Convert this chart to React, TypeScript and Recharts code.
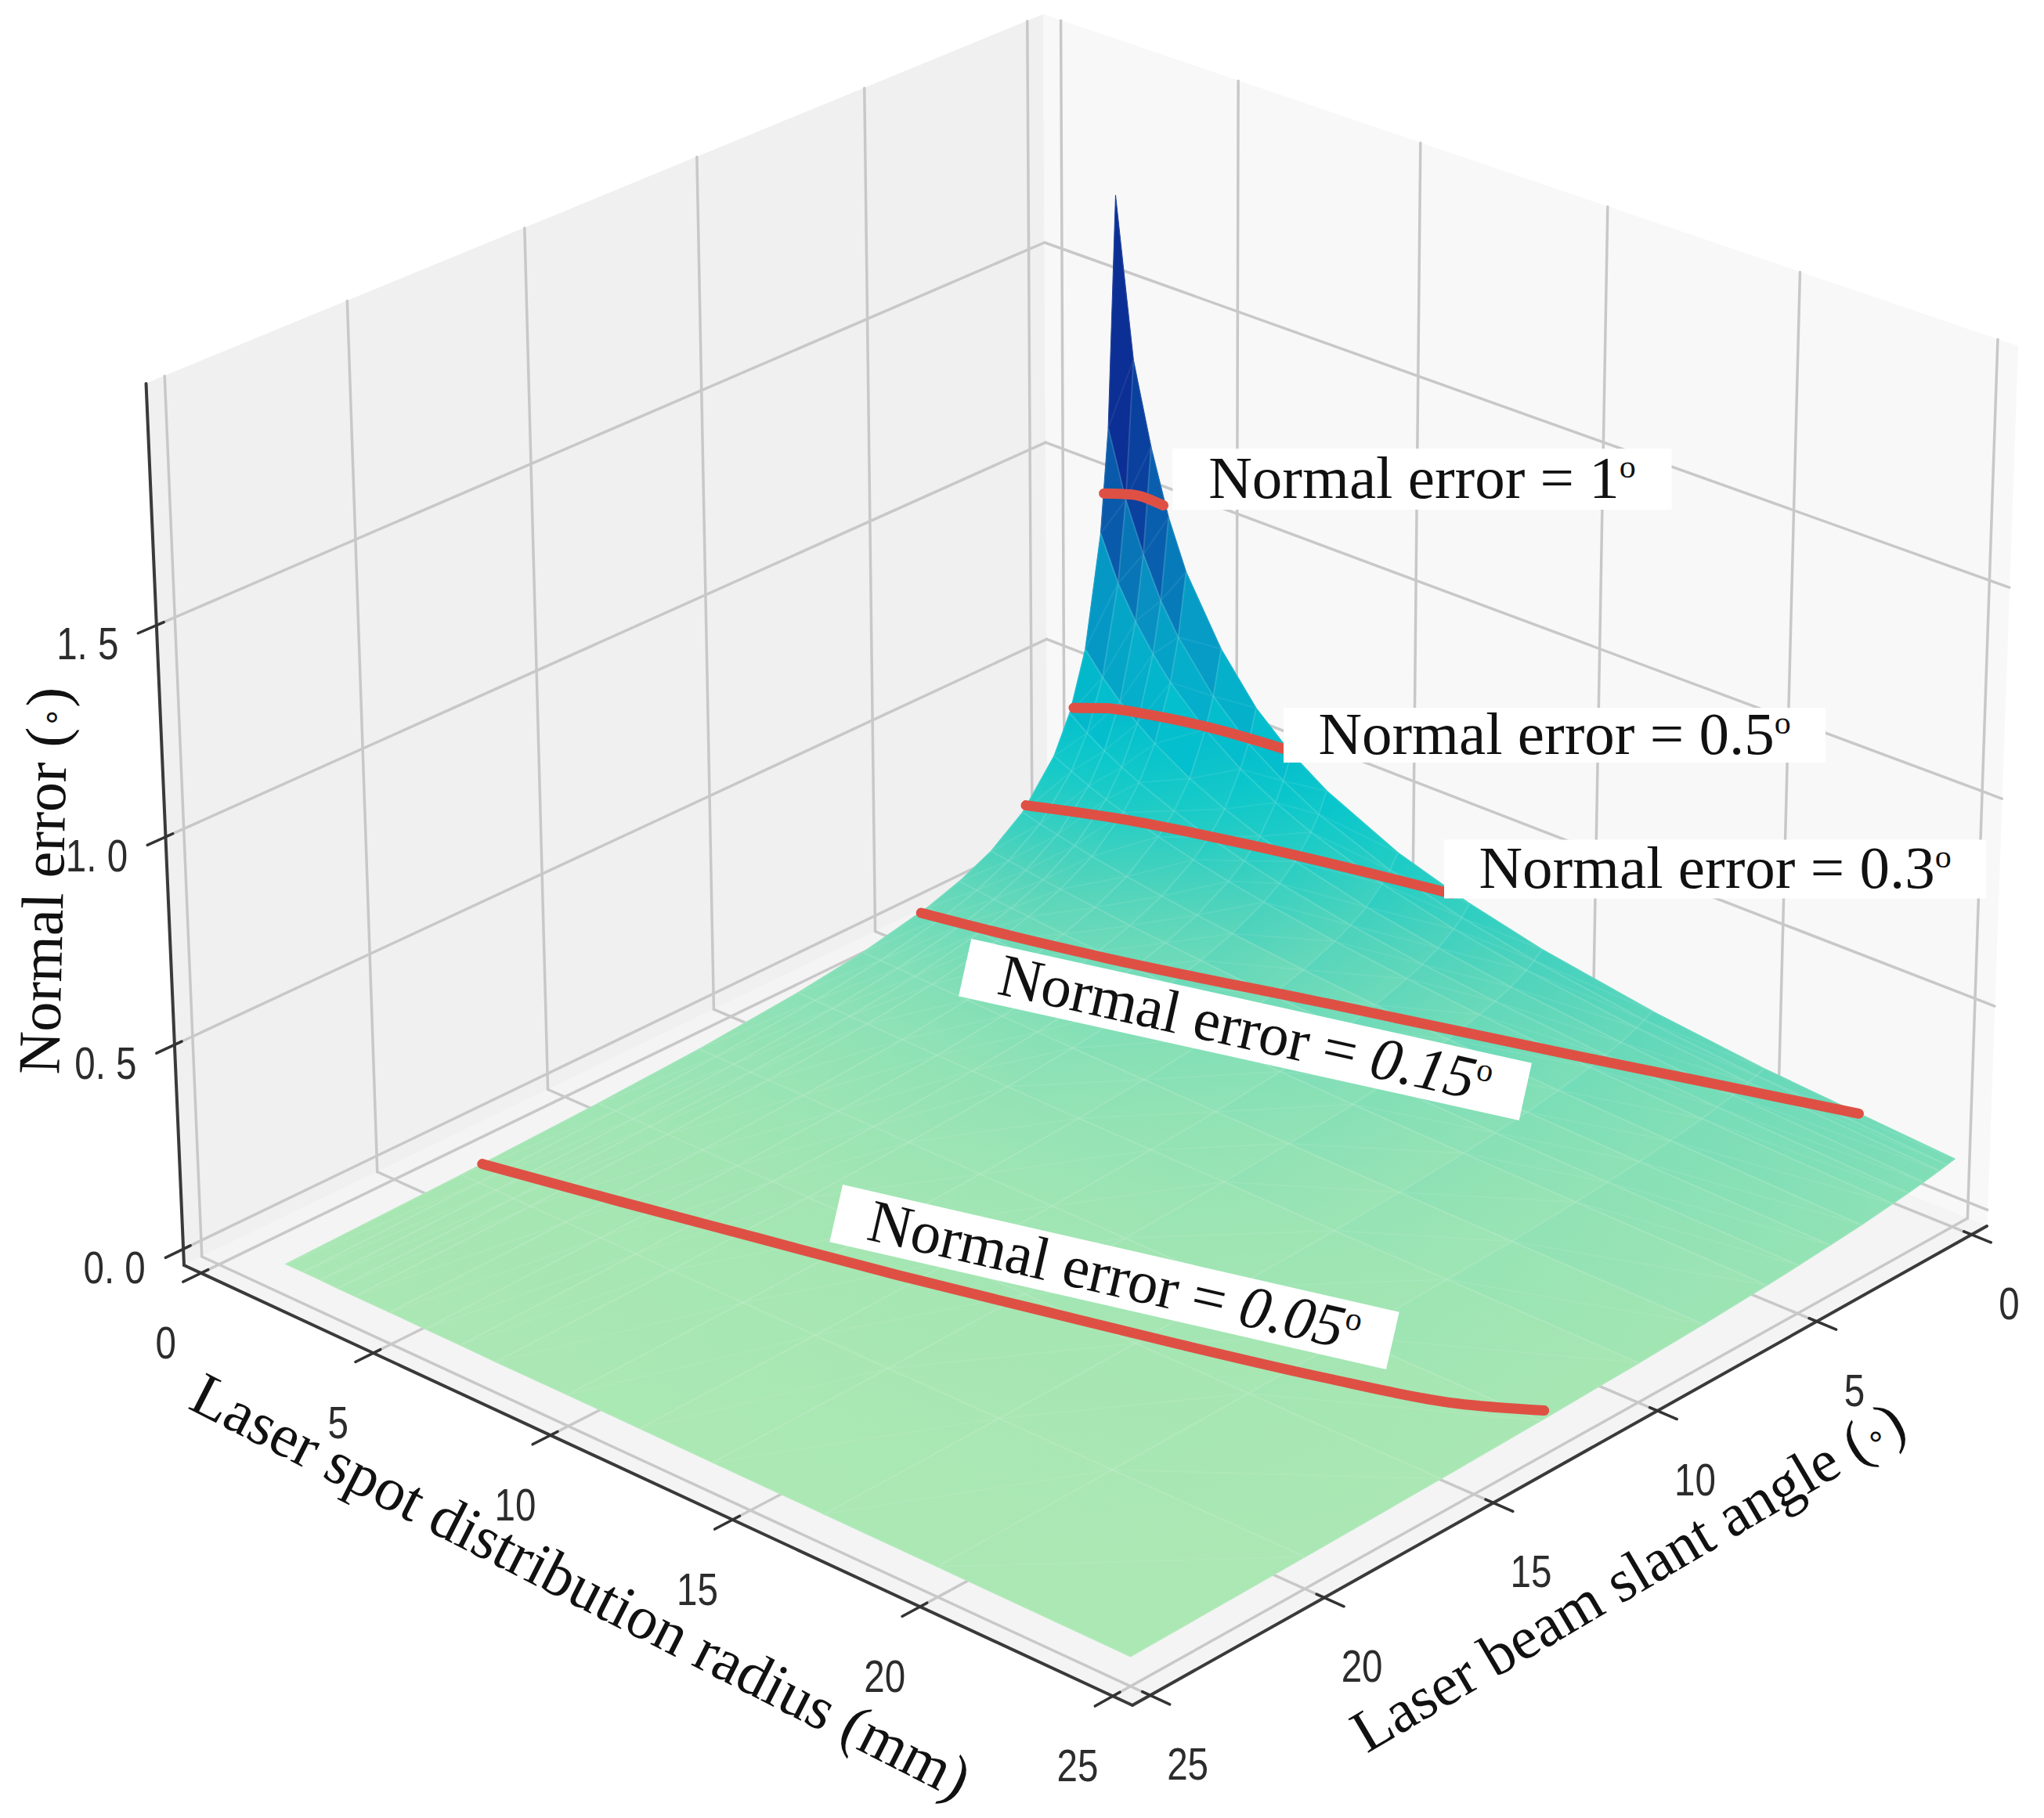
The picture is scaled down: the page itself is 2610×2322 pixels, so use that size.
import React from 'react';
import { ScatterChart, Scatter, XAxis, YAxis } from 'recharts';

// ---- grid of the surface ----
const RADII = [2, 2.5, 3, 3.5, 4, 5, 6, 7, 8, 10, 12, 14, 17, 20, 25];
const ANGLES = [0, 0.25, 0.5, 1, 1.5, 2, 3, 4, 5, 6, 8, 10, 13, 16, 20, 25];
// normal error read per radius, one value per angle
const E_R2 = [1.71, 1.143, 0.889, 0.615, 0.471, 0.381, 0.276, 0.216, 0.178, 0.151, 0.116, 0.094, 0.073, 0.06, 0.048, 0.039];
const E_R2_5 = [1.32, 0.98, 0.78, 0.561, 0.438, 0.36, 0.264, 0.209, 0.173, 0.147, 0.114, 0.093, 0.073, 0.06, 0.048, 0.039];
const E_R3 = [1.12, 0.86, 0.7, 0.516, 0.41, 0.34, 0.254, 0.203, 0.168, 0.144, 0.112, 0.091, 0.072, 0.059, 0.048, 0.039];
const E_R3_5 = [0.96, 0.76, 0.635, 0.478, 0.386, 0.323, 0.244, 0.196, 0.164, 0.141, 0.11, 0.09, 0.071, 0.059, 0.047, 0.038];
const E_R4 = [0.84, 0.685, 0.58, 0.444, 0.364, 0.308, 0.235, 0.19, 0.16, 0.138, 0.108, 0.089, 0.07, 0.058, 0.047, 0.038];
const E_R5 = [0.68, 0.57, 0.495, 0.39, 0.327, 0.281, 0.219, 0.18, 0.152, 0.132, 0.105, 0.086, 0.069, 0.057, 0.046, 0.038];
const E_R6 = [0.565, 0.485, 0.43, 0.348, 0.296, 0.258, 0.205, 0.17, 0.145, 0.127, 0.101, 0.084, 0.067, 0.056, 0.046, 0.037];
const E_R7 = [0.485, 0.425, 0.38, 0.314, 0.271, 0.239, 0.193, 0.162, 0.139, 0.122, 0.098, 0.082, 0.066, 0.055, 0.045, 0.037];
const E_R8 = [0.425, 0.376, 0.34, 0.286, 0.25, 0.222, 0.182, 0.154, 0.133, 0.118, 0.095, 0.08, 0.065, 0.054, 0.044, 0.036];
const E_R10 = [0.34, 0.306, 0.281, 0.242, 0.216, 0.195, 0.163, 0.14, 0.123, 0.11, 0.09, 0.076, 0.062, 0.052, 0.043, 0.036];
const E_R12 = [0.283, 0.258, 0.239, 0.211, 0.19, 0.174, 0.148, 0.129, 0.114, 0.103, 0.085, 0.073, 0.06, 0.051, 0.042, 0.035];
const E_R14 = [0.24, 0.222, 0.208, 0.186, 0.17, 0.157, 0.136, 0.119, 0.107, 0.096, 0.081, 0.07, 0.058, 0.049, 0.041, 0.034];
const E_R17 = [0.195, 0.183, 0.174, 0.158, 0.147, 0.137, 0.12, 0.107, 0.097, 0.088, 0.075, 0.065, 0.055, 0.047, 0.04, 0.033];
const E_R20 = [0.163, 0.156, 0.149, 0.138, 0.129, 0.121, 0.108, 0.098, 0.089, 0.082, 0.07, 0.062, 0.052, 0.045, 0.038, 0.032];
const E_R25 = [0.128, 0.124, 0.12, 0.113, 0.107, 0.102, 0.092, 0.085, 0.078, 0.072, 0.063, 0.056, 0.048, 0.042, 0.036, 0.03];
const ERRORS = [E_R2, E_R2_5, E_R3, E_R3_5, E_R4, E_R5, E_R6, E_R7, E_R8, E_R10, E_R12, E_R14, E_R17, E_R20, E_R25];

// ---- contours [radius, angle, error] ----
const LEVEL_1 = [[2, 0.39, 0.985], [2.6, 0.2, 0.995], [3.35, 0, 0.985]];
const LEVEL_05 = [[2, 1.375, 0.48], [2.7, 1.15, 0.495], [3.5, 0.9, 0.5], [5, 0.45, 0.5], [6.9, 0, 0.49]];
const LEVEL_03 = [[2, 2.9, 0.29], [4, 2.1, 0.295], [7, 1.15, 0.295], [11.5, 0, 0.29]];
const LEVEL_015 = [[2, 6.2, 0.145], [4, 5.5, 0.13], [6, 4.8, 0.12], [11, 3.2, 0.12], [16, 1.65, 0.12], [19, 0.85, 0.13], [22.5, 0, 0.145]];
const LEVEL_005 = [[2, 19.4, 0.05], [5, 18.45, 0.032], [8, 17.5, 0.017], [11, 16.6, 0.005], [14, 15.6, -0.007], [17, 14.7, -0.012], [20, 13.8, -0.012], [23, 13.2, 0.018], [25, 12.9, 0.068]];
const CONTOURS = [LEVEL_1, LEVEL_05, LEVEL_03, LEVEL_015, LEVEL_005];

// ---- ticks ----
const RADIUS_TICKS = [0, 5, 10, 15, 20, 25];
const ANGLE_TICKS = [0, 5, 10, 15, 20, 25];
const ERROR_TICKS = [0, 0.5, 1, 1.5];
const ERROR_TICK_LABELS = ['0. 0', '0. 5', '1. 0', '1. 5'];

const NOTES = [
  { pre: 'Normal error = ', val: '1', italic: false, x: 1816, y: 612, w: 637, h: 78, rot: 0 },
  { pre: 'Normal error = ', val: '0.5', italic: false, x: 1985, y: 939, w: 692, h: 70, rot: 0 },
  { pre: 'Normal error = ', val: '0.3', italic: false, x: 2190, y: 1110, w: 692, h: 75, rot: 0 },
  { pre: 'Normal error = ', val: '0.15', italic: true, x: 1590, y: 1315, w: 733, h: 75, rot: 12.5 },
  { pre: 'Normal error = ', val: '0.05', italic: true, x: 1423, y: 1631, w: 729, h: 75, rot: 12.9 },
];
const TITLES = [
  { text: 'Normal error (', x: 58, y: 1125, size: 76, rot: -88.7 },
  { text: 'Laser spot distribution radius (mm)', x: 741, y: 2028, size: 78, rot: 27, plain: true },
  { text: 'Laser beam slant angle (', x: 2080, y: 2016, size: 77, rot: -30.5 },
];

// ---- view ----
const W = 2610, H = 2322;
const LO = -0.5, HI = 25.5, Z_MIN = -0.04, Z_MAX = 2.06;
const CD = [1338, 1083], CC = [2537, 1566], CB = [1446, 2178], CA = [235, 1616];
const VP = [1500, 31000];
const TOP_Y_AT_A = 490;

const hom = (() => {
  const [x0, y0] = CD, [x1, y1] = CC, [x2, y2] = CB, [x3, y3] = CA;
  const dx1 = x1 - x2, dx2 = x3 - x2, sx = x0 - x1 + x2 - x3;
  const dy1 = y1 - y2, dy2 = y3 - y2, sy = y0 - y1 + y2 - y3;
  const den = dx1 * dy2 - dx2 * dy1;
  const g = (sx * dy2 - dx2 * sy) / den, h = (dx1 * sy - sx * dy1) / den;
  const a = x1 - x0 + g * x1, b = x3 - x0 + h * x3, d = y1 - y0 + g * y1, e = y3 - y0 + h * y3;
  const ny = e + y0, w = h + 1;
  const s = (ny - TOP_Y_AT_A * w) / ((Z_MAX - Z_MIN) * (TOP_Y_AT_A - VP[1]));
  return { a, b, c: x0, d, e, f: y0, g, h, s };
})();

const project = (r: number, a: number, z: number) => {
  const u = (r - LO) / (HI - LO), v = (a - LO) / (HI - LO), q = (z - Z_MIN) * hom.s;
  const w = hom.g * u + hom.h * v + 1 + q;
  return {
    x: (hom.a * u + hom.b * v + hom.c + q * VP[0]) / w,
    y: (hom.d * u + hom.e * v + hom.f + q * VP[1]) / w,
  };
};

const STOPS: [number, number[]][] = [
  [0.03, [172, 232, 180]], [0.05, [165, 230, 179]], [0.1, [135, 224, 182]], [0.15, [108, 218, 185]],
  [0.2, [84, 212, 187]], [0.3, [36, 205, 196]], [0.42, [5, 198, 205]], [0.5, [4, 188, 205]], [0.7, [6, 155, 198]],
  [0.85, [8, 112, 180]], [1.0, [10, 78, 165]], [1.15, [11, 48, 150]], [1.71, [10, 42, 142]],
];
const colour = (z: number) => {
  for (let i = 1; i < STOPS.length; i++) {
    if (z <= STOPS[i][0]) {
      const [z0, c0] = STOPS[i - 1], [z1, c1] = STOPS[i];
      const t = Math.max(0, (z - z0) / (z1 - z0));
      return `rgb(${c0.map((c, k) => Math.round(c + (c1[k] - c) * t)).join(',')})`;
    }
  }
  return 'rgb(10,42,142)';
};

// ---- derived tables ----
const polyRow = (pts: { x: number; y: number }[], fill: string, extra: any = {}) => {
  const x = pts.reduce((s, p) => s + p.x, 0) / pts.length;
  const y = pts.reduce((s, p) => s + p.y, 0) / pts.length;
  return { x, y, pts, fill, ...extra };
};

const panes = [
  polyRow([project(LO, HI, Z_MIN), project(LO, LO, Z_MIN), project(LO, LO, Z_MAX), project(LO, HI, Z_MAX)], '#f0f0f0'),
  polyRow([project(LO, LO, Z_MIN), project(HI, LO, Z_MIN), project(HI, LO, Z_MAX), project(LO, LO, Z_MAX)], '#f8f8f8'),
  polyRow([project(LO, LO, Z_MIN), project(HI, LO, Z_MIN), project(HI, HI, Z_MIN), project(LO, HI, Z_MIN)], '#f4f4f4'),
];

const cells: any[] = [];
for (let i = 0; i < RADII.length - 1; i++) {
  for (let j = 0; j < ANGLES.length - 1; j++) {
    const zs = [ERRORS[i][j], ERRORS[i + 1][j], ERRORS[i + 1][j + 1], ERRORS[i][j + 1]];
    const mean = (zs[0] + zs[1] + zs[2] + zs[3]) / 4;
    const row = polyRow(
      [project(RADII[i], ANGLES[j], zs[0]), project(RADII[i + 1], ANGLES[j], zs[1]),
       project(RADII[i + 1], ANGLES[j + 1], zs[2]), project(RADII[i], ANGLES[j + 1], zs[3])],
      colour(mean),
      mean < 0.45 ? { gid: `cell-${i}-${j}`, c0: colour(zs[0]), c2: colour(zs[2]) } : {});
    cells.push({ ...row, depth: RADII[i] + ANGLES[j] });
  }
}
cells.sort((p, q) => p.depth - q.depth);

const seg = (p: { x: number; y: number }, q: { x: number; y: number }) => [p, q];
const gridLines = [
  ...ANGLE_TICKS.flatMap((a) => [
    seg(project(LO, a, Z_MIN), project(LO, a, Z_MAX)),
    seg(project(LO, a, Z_MIN), project(HI, a, Z_MIN)),
  ]),
  ...RADIUS_TICKS.flatMap((r) => [
    seg(project(r, LO, Z_MIN), project(r, LO, Z_MAX)),
    seg(project(r, LO, Z_MIN), project(r, HI, Z_MIN)),
  ]),
  ...ERROR_TICKS.flatMap((z) => [
    seg(project(LO, HI, z), project(LO, LO, z)),
    seg(project(LO, LO, z), project(HI, LO, z)),
  ]),
];
const axisLines = [
  seg(project(LO, HI, Z_MIN), project(HI, HI, Z_MIN)),
  seg(project(HI, HI, Z_MIN), project(HI, LO, Z_MIN)),
  seg(project(LO, HI, Z_MIN), project(LO, HI, Z_MAX)),
];
const tickLines = [
  ...RADIUS_TICKS.map((r) => seg(project(r, HI - 0.2, Z_MIN), project(r, HI + 0.5, Z_MIN))),
  ...ANGLE_TICKS.map((a) => seg(project(HI - 0.2, a, Z_MIN), project(HI + 0.5, a, Z_MIN))),
  ...ERROR_TICKS.map((z) => seg(project(LO, HI - 0.2, z), project(LO, HI + 0.5, z))),
];
const tickLabels = [
  ...RADIUS_TICKS.map((r) => { const p = project(r, HI, Z_MIN); return { x: p.x - 45, y: p.y + 88, text: String(r) }; }),
  ...ANGLE_TICKS.map((a) => { const p = project(HI, a, Z_MIN); return { x: p.x + 48, y: p.y + 87, text: String(a) }; }),
  ...ERROR_TICKS.map((z, i) => { const p = project(LO, HI, z); return { x: p.x - 88, y: p.y + 23, text: ERROR_TICK_LABELS[i] }; }),
];

const contourPaths = CONTOURS.map((c) => c.map(([r, a, z]) => project(r, a, z)));

// ---- shapes ----
const Nothing = () => <g />;
const PolyShape = (props: any) => {
  const { cx, cy, payload } = props;
  const pts = payload.pts.map((p: any) => [cx + p.x - payload.x, cy + p.y - payload.y]);
  const d = pts.map((p: number[]) => p.join(',')).join(' ');
  if (!payload.gid) return <polygon points={d} fill={payload.fill} stroke={payload.fill} strokeWidth={1} />;
  const paint = `url(#${payload.gid})`;
  return (
    <g>
      <defs>
        <linearGradient id={payload.gid} gradientUnits="userSpaceOnUse"
          x1={pts[0][0]} y1={pts[0][1]} x2={pts[2][0]} y2={pts[2][1]}>
          <stop offset="0" stopColor={payload.c0} />
          <stop offset="1" stopColor={payload.c2} />
        </linearGradient>
      </defs>
      <polygon points={d} fill={paint} stroke={paint} strokeWidth={1.5} />
    </g>
  );
};
const MeshShape = (props: any) => {
  const { cx, cy, payload } = props;
  const pts = payload.pts.map((p: any) => [cx + p.x - payload.x, cy + p.y - payload.y]);
  const d = `M${pts[0].join(',')}L${pts[1].join(',')}L${pts[2].join(',')}L${pts[3].join(',')}ZM${pts[1].join(',')}L${pts[3].join(',')}`;
  return <path d={d} fill="none" stroke="#fff" strokeOpacity={0.07} strokeWidth={2} />;
};
const TickText = (props: any) => {
  const { cx, cy, payload } = props;
  return (
    <text transform={`translate(${cx} ${cy}) scale(0.82 1)`} textAnchor="middle" dy="0.36em"
      fontFamily="'Liberation Sans', Arial, sans-serif" fontSize={58} fill="#2c2c2c">{payload.text}</text>
  );
};
const TitleText = (props: any) => {
  const { cx, cy, payload } = props;
  return (
    <text transform={`translate(${cx} ${cy}) rotate(${payload.rot})`} textAnchor="middle" dy="0.3em"
      fontFamily="'Liberation Serif', 'Times New Roman', serif" fontSize={payload.size} fill="#111">
      {payload.text}
      {payload.plain ? null : (
        <>
          <tspan fontSize={42} dy={-6} fontFamily="'DejaVu Sans', sans-serif">∘</tspan>
          <tspan dy={6}>)</tspan>
        </>
      )}
    </text>
  );
};
const NoteBox = (props: any) => {
  const { cx, cy, payload } = props;
  return (
    <g transform={`translate(${cx} ${cy}) rotate(${payload.rot})`}>
      <rect x={-payload.w / 2} y={-payload.h / 2} width={payload.w} height={payload.h} fill="#fff" />
      <text textAnchor="middle" y={24} fontFamily="'Liberation Serif', 'Times New Roman', serif" fontSize={77} fill="#111">
        {payload.pre}
        <tspan fontStyle={payload.italic ? 'italic' : 'normal'}>{payload.val}</tspan>
        <tspan fontSize={42} dy={-26}>o</tspan>
      </text>
    </g>
  );
};

const LineSet = (lines: { x: number; y: number }[][], stroke: string, width: number, prefix: string, joint: any = 'linear') =>
  lines.map((pts, i) => (
    <Scatter key={`${prefix}${i}`} data={pts} dataKey="y" shape={Nothing} isAnimationActive={false}
      line={{ stroke, strokeWidth: width, strokeLinecap: 'round', strokeLinejoin: 'round' }}
      lineType="joint" lineJointType={joint} />
  ));

export default function App() {
  return (
    <div style={{ position: 'absolute', left: 0, top: 0, width: W, height: H, background: '#fff' }}>
      <ScatterChart width={W} height={H} margin={{ top: 0, right: 0, bottom: 0, left: 0 }}>
        <XAxis type="number" dataKey="x" domain={[0, W]} hide />
        <YAxis type="number" dataKey="y" domain={[0, H]} reversed hide />
        <Scatter data={panes} shape={PolyShape} isAnimationActive={false} />
        {LineSet(gridLines, '#c8c8c8', 3.5, 'grid')}
        {LineSet(axisLines, '#3a3a3a', 4, 'axis')}
        {LineSet(tickLines, '#333', 3.5, 'tick')}
        <Scatter data={cells} shape={PolyShape} isAnimationActive={false} />
        <Scatter data={cells} shape={MeshShape} isAnimationActive={false} />
        {LineSet(contourPaths, '#df5044', 13, 'level', 'monotoneX')}
        <Scatter data={NOTES} shape={NoteBox} isAnimationActive={false} />
        <Scatter data={tickLabels} shape={TickText} isAnimationActive={false} />
        <Scatter data={TITLES} shape={TitleText} isAnimationActive={false} />
      </ScatterChart>
    </div>
  );
}
